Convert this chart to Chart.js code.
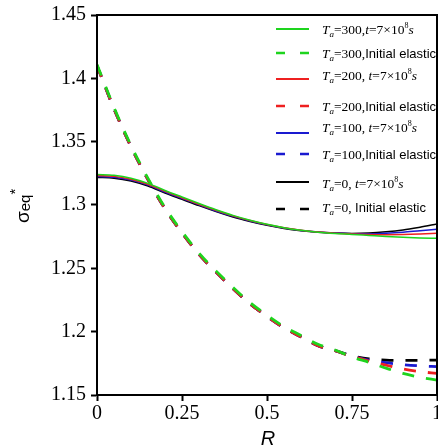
<!DOCTYPE html>
<html>
<head>
<meta charset="utf-8">
<script src="https://cdn.jsdelivr.net/npm/chart.js@4.4.0/dist/chart.umd.min.js"></script>
<style>
    html, body { margin: 0; padding: 0; background: #fff; }
    canvas { display: block; }
</style>
</head>
<body>
<canvas id="grafico" width="438" height="446"></canvas>
<script>
// ==========================================
// DATA
// ==========================================
const raio = [0, 0.05, 0.1, 0.15, 0.2, 0.25, 0.3, 0.35, 0.4, 0.45, 0.5, 0.55, 0.6, 0.65, 0.7, 0.75, 0.8, 0.85, 0.9, 0.95, 1];

// t = 7x10^8 s (solid)
const t300 = [1.3240, 1.3234, 1.3212, 1.3171, 1.3115, 1.3063, 1.3012, 1.2963, 1.2918, 1.2880, 1.2848, 1.2821, 1.2800, 1.2785, 1.2775, 1.2768, 1.2760, 1.2752, 1.2745, 1.2740, 1.2737];
const t200 = [1.3232, 1.3226, 1.3204, 1.3164, 1.3108, 1.3057, 1.3006, 1.2958, 1.2914, 1.2877, 1.2846, 1.2820, 1.2800, 1.2786, 1.2777, 1.2772, 1.2768, 1.2766, 1.2767, 1.2771, 1.2777];
const t100 = [1.3225, 1.3219, 1.3197, 1.3157, 1.3102, 1.3051, 1.3001, 1.2953, 1.2910, 1.2874, 1.2843, 1.2818, 1.2799, 1.2786, 1.2778, 1.2774, 1.2773, 1.2777, 1.2785, 1.2797, 1.2808];
const t0   = [1.3218, 1.3212, 1.3190, 1.3150, 1.3095, 1.3045, 1.2995, 1.2948, 1.2905, 1.2870, 1.2840, 1.2815, 1.2797, 1.2785, 1.2778, 1.2775, 1.2778, 1.2788, 1.2803, 1.2825, 1.2850];

// initial elastic (dashed)
const e300 = [1.411, 1.377, 1.347, 1.321, 1.298, 1.279, 1.262, 1.248, 1.235, 1.223, 1.213, 1.204, 1.197, 1.190, 1.1855, 1.1800, 1.1758, 1.1712, 1.1670, 1.1640, 1.1618];
const e200 = [1.410, 1.376, 1.346, 1.320, 1.297, 1.278, 1.261, 1.247, 1.234, 1.222, 1.212, 1.203, 1.196, 1.189, 1.1850, 1.1805, 1.1768, 1.1735, 1.1705, 1.1685, 1.1670];
const e100 = [1.410, 1.376, 1.346, 1.320, 1.297, 1.278, 1.261, 1.247, 1.234, 1.222, 1.212, 1.203, 1.196, 1.189, 1.1850, 1.1808, 1.1775, 1.1755, 1.1740, 1.1730, 1.1724];
const e0   = [1.410, 1.376, 1.346, 1.320, 1.297, 1.278, 1.261, 1.247, 1.234, 1.222, 1.212, 1.203, 1.196, 1.189, 1.1850, 1.1810, 1.1785, 1.1775, 1.1773, 1.1774, 1.1776];

// legend
const legendTa = ['300', '300', '200', '200', '100', '100', '0', '0'];
const legendSep = [',', ',', ', ', ',', ', ', ',', ', ', ', '];

// ticks
const xTicks = [0, 0.25, 0.5, 0.75, 1];
const xTickLabels = ['0', '0.25', '0.5', '0.75', '1'];
const yTicks = [1.15, 1.2, 1.25, 1.3, 1.35, 1.4, 1.45];
const yTickLabels = ['1.15', '1.2', '1.25', '1.3', '1.35', '1.4', '1.45'];

// ==========================================
// HELPERS
// ==========================================
function pontos(serie) {
    return raio.map((r, i) => ({ x: r, y: serie[i] }));
}

function serie(valores, cor, tracejado) {
    return {
        data: pontos(valores),
        borderColor: cor,
        borderWidth: tracejado ? 2.8 : 1.5,
        borderDash: tracejado ? [12, 12] : [],
        pointRadius: 0,
        cubicInterpolationMode: 'monotone',
        fill: false
    };
}

const verde = '#1ed41e';
const vermelho = '#ee2020';
const azul = '#1a1ad0';
const preto = '#000000';

const datasets = [
    serie(t300, verde, false),
    serie(e300, verde, true),
    serie(t200, vermelho, false),
    serie(e200, vermelho, true),
    serie(t100, azul, false),
    serie(e100, azul, true),
    serie(t0, preto, false),
    serie(e0, preto, true)
];

// draws a run of [text, font, dy] pieces
function pedacos(ctx, x, y, lista) {
    lista.forEach(p => {
        ctx.font = p[1];
        ctx.fillText(p[0], x, y + (p[2] || 0));
        x += ctx.measureText(p[0]).width;
    });
}

// ==========================================
// EXTRAS: frame, axis titles, legend
// ==========================================
const extras = {
    id: 'extras',
    afterDraw(chart) {
        const ctx = chart.ctx;
        const a = chart.chartArea;
        ctx.save();

        // frame
        ctx.strokeStyle = '#000';
        ctx.lineWidth = 2;
        ctx.strokeRect(a.left, a.top, a.right - a.left, a.bottom - a.top);

        ctx.fillStyle = '#000';
        ctx.textBaseline = 'alphabetic';
        ctx.textAlign = 'left';

        // y title sigma_eq^*
        ctx.save();
        ctx.translate(29, 223);
        ctx.rotate(-Math.PI / 2);
        pedacos(ctx, 0, 0, [
            ['σ', '19px "Liberation Sans"', 0],
            ['eq', '15px "Liberation Sans"', 1],
            ['*', '15px "Liberation Sans"', -9]
        ]);
        ctx.restore();

        // x title
        ctx.textAlign = 'center';
        ctx.font = 'italic 20px "Liberation Sans"';
        ctx.fillText('R', 268, 445);
        ctx.textAlign = 'left';

        // legend
        const linhaY = [29, 53, 79, 106, 133, 154, 182, 209];
        const textoY = [29, 53, 75, 106, 127, 154, 183, 207];
        const serif = '"Liberation Serif"';
        chart.data.datasets.forEach((ds, i) => {
            ctx.save();
            ctx.strokeStyle = ds.borderColor;
            ctx.lineWidth = ds.borderDash.length ? 2.4 : 1.8;
            ctx.setLineDash(ds.borderDash.length ? [9, 15] : []);
            ctx.beginPath();
            ctx.moveTo(276, linhaY[i]);
            ctx.lineTo(309, linhaY[i]);
            ctx.stroke();
            ctx.restore();

            const y = textoY[i] + 5;
            const elastico = ds.borderDash.length > 0;
            const lista = [
                ['T', 'italic 13.5px ' + serif, 0],
                ['a', 'italic 9px ' + serif, 3],
                ['=' + legendTa[i] + legendSep[i], '13.5px ' + serif, 0]
            ];
            if (elastico) {
                lista.push(['Initial elastic', '13px "Liberation Sans"', 0]);
            } else {
                lista.push(['t', 'italic 13.5px ' + serif, 0]);
                lista.push(['=7×10', '13.5px ' + serif, 0]);
                lista.push(['8', '8px ' + serif, -6]);
                lista.push(['s', 'italic 13.5px ' + serif, 0]);
            }
            pedacos(ctx, 322, y, lista);
        });

        ctx.restore();
    }
};

// ==========================================
// CHART
// ==========================================
Chart.defaults.font.family = '"Liberation Serif"';
Chart.defaults.color = '#000';

new Chart(document.getElementById('grafico').getContext('2d'), {
    type: 'line',
    data: { datasets: datasets },
    options: {
        responsive: false,
        animation: false,
        layout: { padding: { top: 15, right: 1, left: 0, bottom: 0 } },
        plugins: { legend: { display: false }, tooltip: { enabled: false } },
        scales: {
            x: {
                type: 'linear',
                min: 0, max: 1,
                afterBuildTicks: s => { s.ticks = xTicks.map(v => ({ value: v })); },
                afterFit: s => { s.height = 51; s.paddingLeft = 0; s.paddingRight = 0; },
                ticks: {
                    font: { size: 20 },
                    padding: 1,
                    maxRotation: 0,
                    callback: v => xTickLabels[xTicks.indexOf(v)]
                },
                grid: { drawOnChartArea: false, tickLength: 6, tickWidth: 2, tickColor: '#000' },
                border: { display: true, color: '#000', width: 2 }
            },
            y: {
                type: 'linear',
                min: 1.15, max: 1.45,
                afterBuildTicks: s => { s.ticks = yTicks.map(v => ({ value: v })); },
                afterFit: s => { s.width = 97; s.paddingTop = 0; s.paddingBottom = 0; },
                ticks: {
                    font: { size: 20 },
                    padding: 5,
                    callback: v => yTickLabels[yTicks.indexOf(v)]
                },
                grid: { drawOnChartArea: false, tickLength: 6, tickWidth: 2, tickColor: '#000' },
                border: { display: true, color: '#000', width: 2 }
            }
        }
    },
    plugins: [extras]
});
</script>
</body>
</html>
